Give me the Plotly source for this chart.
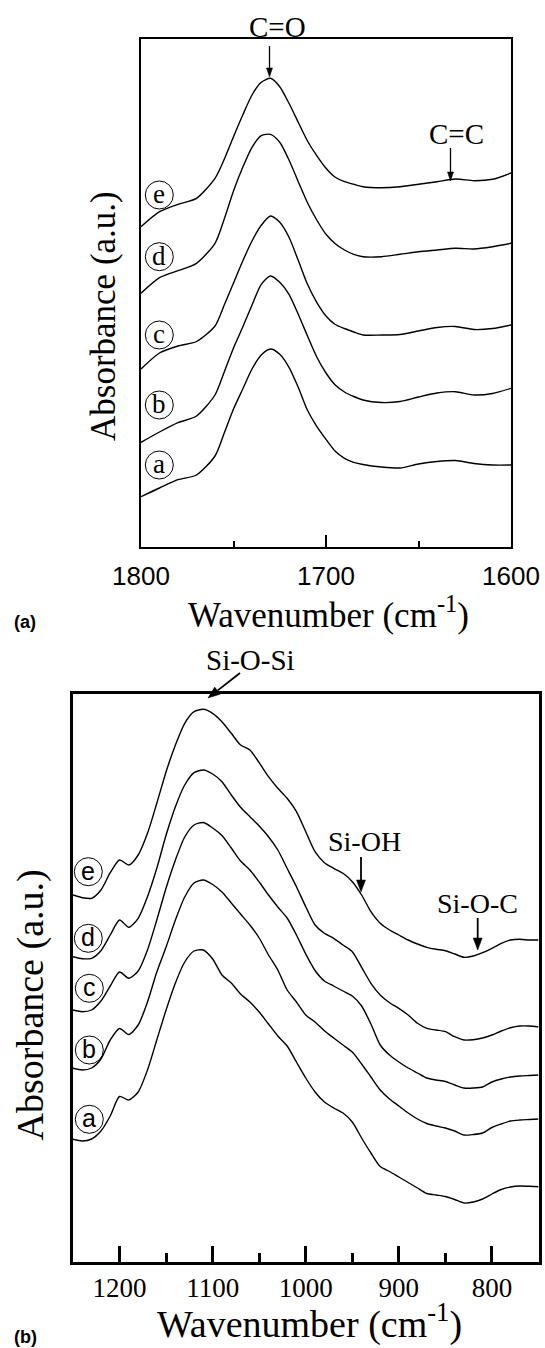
import math
import plotly.graph_objects as go

# ---------------- data ----------------
# Panel (a): C=O / C=C region
wn_top = [1800, 1790, 1780, 1770, 1760, 1755, 1750, 1745, 1740, 1735, 1730, 1725,
          1720, 1715, 1710, 1705, 1700, 1695, 1690, 1685, 1680, 1670, 1660, 1650,
          1640, 1630, 1620, 1610, 1600]
top_a = [50.6, 59.3, 67.6, 72.3, 91.3, 114.3, 138.3, 158.3, 178.3, 192.3, 198.3, 193.0,
         180.0, 160.0, 137.0, 121.0, 108.0, 96.0, 89.0, 85.0, 82.8, 80.3, 79.3, 83.3,
         85.8, 86.8, 83.8, 82.3, 82.3]
top_b = [105.0, 115.3, 124.6, 131.3, 152.3, 175.3, 199.3, 220.3, 242.3, 263.0, 271.3, 265.0,
         253.0, 233.0, 211.3, 190.3, 174.3, 162.3, 155.3, 150.8, 147.3, 144.8, 145.8, 150.3,
         154.3, 155.6, 152.3, 153.8, 159.0]
top_c = [178.3, 194.3, 201.3, 205.8, 221.3, 242.3, 264.3, 286.3, 306.3, 322.0, 331.3, 325.0,
         310.0, 287.0, 263.0, 245.0, 231.3, 222.8, 218.8, 215.3, 212.3, 212.3, 212.8, 216.3,
         219.8, 220.8, 217.8, 218.8, 222.3]
top_d = [254.0, 269.6, 276.6, 284.0, 304.0, 328.3, 356.3, 380.0, 400.0, 411.6, 413.0, 405.0,
         387.3, 365.6, 344.6, 327.3, 313.0, 303.6, 297.3, 293.0, 290.6, 290.6, 293.0, 295.6,
         297.3, 299.0, 298.3, 300.6, 304.0]
top_e = [320.6, 335.6, 343.0, 349.0, 369.0, 388.0, 410.6, 432.3, 452.3, 465.0, 469.0, 460.6,
         444.0, 425.0, 406.3, 391.6, 379.0, 370.0, 365.6, 363.0, 360.6, 359.6, 360.6, 363.0,
         365.6, 368.3, 366.6, 368.0, 374.3]

# Panel (b): Si-O region
wn_bot = [1250, 1240, 1230, 1220, 1210, 1200, 1190, 1180, 1170, 1160,
          1150, 1140, 1130, 1120, 1110, 1100, 1090, 1080, 1070, 1060,
          1050, 1040, 1030, 1020, 1010, 1000, 990, 980, 970, 960,
          950, 940, 930, 920, 910, 900, 890, 880, 870, 860,
          850, 840, 830, 820, 810, 800, 790, 780, 770, 760, 750]
bot_a = [122.4, 120.7, 122.7, 130.7, 145.7, 165.2, 161.7, 169.7, 191.7, 221.7,
         251.7, 278.7, 299.7, 310.7, 311.7, 302.7, 286.7, 278.7, 267.7, 259.7,
         249.7, 237.7, 225.7, 215.7, 199.7, 183.7, 169.7, 159.7, 153.7, 148.7,
         139.7, 123.7, 108.7, 95.2, 90.2, 84.7, 79.2, 73.7, 68.2, 66.7,
         65.2, 62.2, 58.7, 59.7, 62.7, 67.7, 72.2, 74.7, 75.7, 75.4, 75.0]
bot_b = [193.4, 191.7, 193.7, 202.7, 221.7, 233.2, 227.2, 236.7, 259.7, 289.7,
         314.7, 341.7, 364.7, 378.7, 381.7, 377.2, 369.7, 358.7, 347.7, 336.7,
         323.7, 306.7, 291.7, 271.7, 259.7, 246.7, 239.7, 231.0, 223.7, 216.7,
         209.7, 197.7, 184.7, 171.7, 162.7, 155.7, 148.7, 142.7, 138.2, 135.7,
         133.7, 130.7, 126.7, 127.2, 128.7, 134.2, 137.7, 140.7, 141.7, 142.2, 142.7]
bot_c = [251.7, 250.0, 251.7, 260.7, 275.7, 289.7, 283.4, 290.7, 311.7, 341.7,
         373.7, 401.7, 424.7, 436.7, 439.2, 433.7, 426.2, 413.7, 400.7, 391.7,
         379.7, 366.7, 354.7, 343.7, 326.7, 307.7, 291.2, 280.7, 275.7, 270.7,
         265.7, 255.7, 237.7, 216.7, 206.7, 199.7, 193.7, 188.7, 183.7, 181.7,
         180.2, 176.7, 173.7, 173.7, 174.7, 179.7, 182.7, 184.7, 185.7, 186.2, 186.7]
bot_d = [305.0, 303.0, 303.4, 311.0, 326.7, 341.7, 334.4, 343.4, 365.0, 393.4,
         426.7, 455.0, 476.7, 489.0, 491.7, 487.7, 480.0, 466.7, 454.4, 445.0,
         435.7, 425.0, 411.7, 393.4, 375.0, 355.0, 336.7, 328.4, 323.4, 316.7,
         310.0, 294.4, 278.4, 266.7, 259.0, 253.4, 246.7, 238.4, 233.4, 231.7,
         230.0, 225.0, 221.7, 222.0, 223.7, 226.7, 230.7, 234.0, 235.7, 235.7, 234.7]
bot_e = [366.7, 364.0, 363.4, 371.7, 389.0, 401.7, 396.7, 406.7, 428.4, 458.4,
         490.0, 516.7, 538.4, 550.0, 552.4, 548.4, 540.0, 528.4, 516.7, 511.7,
         499.0, 485.0, 473.4, 463.4, 450.0, 430.0, 410.0, 399.0, 393.4, 388.4,
         380.0, 366.7, 350.0, 338.4, 331.7, 326.7, 321.7, 317.7, 314.4, 312.4,
         311.0, 307.7, 304.4, 305.7, 309.0, 313.4, 318.4, 321.7, 322.4, 321.7, 321.7]

series_labels = ["a", "b", "c", "d", "e"]
top_series = [top_a, top_b, top_c, top_d, top_e]
bot_series = [bot_a, bot_b, bot_c, bot_d, bot_e]

x_ticks_top = [1800, 1700, 1600]
x_ticks_bot = [1200, 1100, 1000, 900, 800]

# ---------------- layout helpers ----------------
W, H = 545, 1348
def px(x):
    return x / W
def py(y):
    return 1 - y / H

SERIF = "Liberation Serif, Times New Roman, serif"
SANS = "Liberation Sans, Arial, sans-serif"

fig = go.Figure()

for lab, ys in zip(series_labels, top_series):
    fig.add_trace(go.Scatter(x=wn_top, y=ys, mode="lines", name=lab,
                             line=dict(color="black", width=1.4, shape="spline", smoothing=0.7),
                             xaxis="x", yaxis="y", showlegend=False, hoverinfo="skip"))
for lab, ys in zip(series_labels, bot_series):
    fig.add_trace(go.Scatter(x=wn_bot, y=ys, mode="lines", name=lab,
                             line=dict(color="black", width=1.4, shape="spline", smoothing=0.7),
                             xaxis="x2", yaxis="y2", showlegend=False, hoverinfo="skip"))

fig.update_layout(
    width=W, height=H, autosize=False,
    margin=dict(l=0, r=0, t=0, b=0, pad=0, autoexpand=False),
    paper_bgcolor="white", plot_bgcolor="white",
    xaxis=dict(domain=[px(141), px(511)], range=[1800, 1600], anchor="y", automargin=False,
               showgrid=False, zeroline=False, showline=True, linecolor="black", linewidth=2,
               mirror=True, ticks="inside", tickvals=x_ticks_top, ticklen=12, tickwidth=2,
               tickcolor="black", ticklabelstandoff=4,
               minor=dict(ticks="inside", dtick=50, tick0=1800, ticklen=6, tickwidth=1.5,
                          tickcolor="black", showgrid=False),
               tickfont=dict(family=SANS, size=26, color="black")),
    yaxis=dict(domain=[py(547.3), py(38.5)], range=[0, 508.8], anchor="x", automargin=False,
               showgrid=False, zeroline=False, showline=True, linecolor="black", linewidth=2,
               mirror=True, ticks="", showticklabels=False),
    xaxis2=dict(domain=[px(73), px(538.5)], range=[1250, 750], anchor="y2", automargin=False,
                showgrid=False, zeroline=False, showline=True, linecolor="black", linewidth=3,
                mirror=True, ticks="inside", tickvals=x_ticks_bot, ticklen=16, tickwidth=2.5,
                tickcolor="black", ticklabelstandoff=0,
                minor=dict(ticks="inside", dtick=50, tick0=1250, ticklen=9, tickwidth=2.5,
                           tickcolor="black", showgrid=False),
                tickfont=dict(family=SERIF, size=27, color="black")),
    yaxis2=dict(domain=[py(1261.7), py(694)], range=[0, 567.7], anchor="x2", automargin=False,
                showgrid=False, zeroline=False, showline=True, linecolor="black", linewidth=3,
                mirror=True, ticks="", showticklabels=False),
)

annotations = []
shapes = []

def text(x, y, s, family=SERIF, size=28, angle=0, bold=False):
    if bold:
        s = "<b>" + s + "</b>"
    annotations.append(dict(x=px(x), y=py(y), xref="paper", yref="paper", text=s,
                            showarrow=False, xanchor="center", yanchor="middle",
                            textangle=angle, font=dict(family=family, size=size, color="black")))

def arrow(tip_x, tip_y, tail_x, tail_y, width=1.3, head_len=9.0, head_half=3.2):
    dx, dy = tip_x - tail_x, tip_y - tail_y
    n = math.hypot(dx, dy)
    ux, uy = dx / n, dy / n
    bx, by = tip_x - head_len * ux, tip_y - head_len * uy
    nx, ny = -uy, ux
    shapes.append(dict(type="line", xref="paper", yref="paper",
                       x0=px(tail_x), y0=py(tail_y), x1=px(bx), y1=py(by),
                       line=dict(color="black", width=width)))
    p1 = (bx + head_half * nx, by + head_half * ny)
    p2 = (bx - head_half * nx, by - head_half * ny)
    path = "M {:.5f} {:.5f} L {:.5f} {:.5f} L {:.5f} {:.5f} Z".format(
        px(tip_x), py(tip_y), px(p1[0]), py(p1[1]), px(p2[0]), py(p2[1]))
    shapes.append(dict(type="path", xref="paper", yref="paper", path=path,
                       fillcolor="black", line=dict(color="black", width=0.5)))

# peak labels
text(277, 27, "C=O", size=29)
arrow(269.5, 77, 269.5, 46, width=1.3, head_len=9, head_half=3)
text(456, 134, "C=C", size=29)
arrow(450.5, 181, 450.5, 148, width=1.3, head_len=9, head_half=3)
text(250, 660, "Si-O-Si", size=29)
arrow(208, 698, 240, 673, width=1.8, head_len=12, head_half=4.5)
text(364, 841, "Si-OH", size=28)
arrow(361, 892, 361, 857, width=1.8, head_len=12, head_half=4.5)
text(477.5, 904, "Si-O-C", size=28)
arrow(477.7, 950, 477.7, 918, width=1.8, head_len=12, head_half=4.5)

# axis titles
text(103.5, 316.5, "Absorbance (a.u.)", size=35, angle=-90)
text(29.5, 1005, "Absorbance (a.u.)", size=38, angle=-90)
text(328, 612, "Wavenumber (cm<sup>-1</sup>)", size=35)
text(309, 1321, "Wavenumber (cm<sup>-1</sup>)", size=38)
text(25, 622, "(a)", family=SANS, size=18, bold=True)
text(25, 1337, "(b)", family=SANS, size=18, bold=True)

# circled curve labels
top_circ = [(159.3, 465), (159.3, 405), (159.3, 335), (159.3, 256.7), (159.3, 195)]
bot_circ = [(89.3, 1119.3), (89.3, 1050), (89.3, 988.3), (88.3, 938.3), (88.3, 871.7)]
R = 14
for lab, (cx, cy) in zip(series_labels, top_circ):
    shapes.append(dict(type="circle", xref="paper", yref="paper",
                       x0=px(cx - R), x1=px(cx + R), y0=py(cy + R), y1=py(cy - R),
                       line=dict(color="black", width=1)))
    text(cx, cy - 1, lab, family=SERIF, size=27)
for lab, (cx, cy) in zip(series_labels, bot_circ):
    shapes.append(dict(type="circle", xref="paper", yref="paper",
                       x0=px(cx - R), x1=px(cx + R), y0=py(cy + R), y1=py(cy - R),
                       line=dict(color="black", width=1)))
    text(cx, cy - 1, lab, family=SANS, size=25)

fig.update_layout(annotations=annotations, shapes=shapes)

fig.write_html("out.html", config={"displayModeBar": False},
               post_script="document.body.style.margin='0';")
